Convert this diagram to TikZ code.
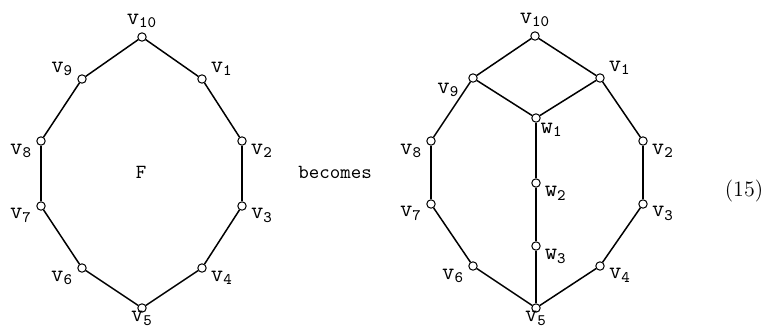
\documentclass[tikz,border=0pt]{standalone}
\newcommand{\vl}[1]{$\mathtt{v}_{\mathtt{#1}}$}
\newcommand{\wl}[1]{$\mathtt{w}_{\mathtt{#1}}$}
\begin{document}
\begin{tikzpicture}[x=0.5pt,y=-0.5pt,
    vtx/.style={circle,draw,fill=white,inner sep=0pt,minimum size=4.2pt,line width=0.5pt},
    every label/.style={font=\ttfamily\large,inner sep=0.5pt},
    label distance=1.5pt,
    edge/.style={line width=0.75pt}]
    \useasboundingbox (0,0) rectangle (772,333);
    % face F
    \node[vtx,label=above:\vl{10}] (l10) at (142,37) {};
    \node[vtx,label=165:\vl{9}] (l9) at (82,79) {};
    \node[vtx,label=15:\vl{1}] (l1) at (202,79) {};
    \node[vtx,label=192:\vl{8}] (l8) at (41,141) {};
    \node[vtx,label=-12:\vl{2}] (l2) at (242,141) {};
    \node[vtx,label=185:\vl{7}] (l7) at (41,206) {};
    \node[vtx,label=-5:\vl{3}] (l3) at (242,206) {};
    \node[vtx,label=190:\vl{6}] (l6) at (82,268) {};
    \node[vtx,label=-10:\vl{4}] (l4) at (202,268) {};
    \node[vtx,label={[label distance=-1.5pt]below:\vl{5}}] (l5) at (142,308) {};
    \node[font=\ttfamily] (f) at (141,172) {F};
    \foreach \i/\j in {1/2,2/3,3/4,4/5,5/6,6/7,7/8,8/9,9/10,10/1}
        \draw[edge] (l\i) -- (l\j);
    \node[font=\ttfamily] (becomes) at (335,172) {becomes};
    % after splitting F
    \node[vtx,label=above:\vl{10}] (r10) at (535,36) {};
    \node[vtx,label={[label distance=4pt]195:\vl{9}}] (r9) at (473,78) {};
    \node[vtx,label=15:\vl{1}] (r1) at (600,78) {};
    \node[vtx,label=192:\vl{8}] (r8) at (431,141) {};
    \node[vtx,label=-12:\vl{2}] (r2) at (643,141) {};
    \node[vtx,label=185:\vl{7}] (r7) at (431,204) {};
    \node[vtx,label=-5:\vl{3}] (r3) at (643,204) {};
    \node[vtx,label=192:\vl{6}] (r6) at (473,266) {};
    \node[vtx,label=-5:\vl{4}] (r4) at (600,266) {};
    \node[vtx,label={[label distance=-1.5pt]below:\vl{5}}] (r5) at (536,308) {};
    \node[vtx,label={[label distance=0pt]-45:\wl{1}}] (w1) at (536,118) {};
    \node[vtx,label=-15:\wl{2}] (w2) at (536,183) {};
    \node[vtx,label=-15:\wl{3}] (w3) at (536,246) {};
    \foreach \i/\j in {1/2,2/3,3/4,4/5,5/6,6/7,7/8,8/9,9/10,10/1}
        \draw[edge] (r\i) -- (r\j);
    \draw[edge] (r9) -- (w1) -- (r1);
    \draw[edge] (w1) -- (w2) -- (w3) -- (r5);
    \node[font=\fontsize{11}{13}\selectfont] (eqno) at (744,191) {(15)};
\end{tikzpicture}
\end{document}
